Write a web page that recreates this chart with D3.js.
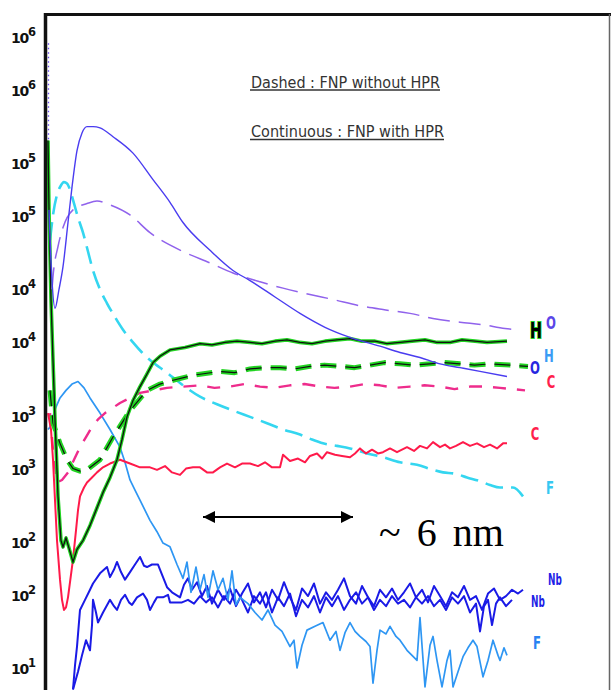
<!DOCTYPE html>
<html>
<head>
<meta charset="utf-8">
<script src="https://cdn.jsdelivr.net/npm/d3@7/dist/d3.min.js"></script>
<style>
  body{margin:0;background:#fff;}
  svg{display:block;}
</style>
</head>
<body>
<svg id="chart" width="611" height="690"></svg>
<script>
// depth in nm, value as log10(counts)
const oSolid=[[0.08,4.63],[0.2,4.07],[0.32,3.85],[0.48,4.00],[0.64,4.18],[0.84,4.53],[1.0,4.81],[1.2,5.10],[1.4,5.24],[1.6,5.29],[1.84,5.29],[2.12,5.28],[2.64,5.21],[3.44,5.08],[4.24,4.87],[4.92,4.69],[5.44,4.53],[6.52,4.31],[7.44,4.15],[8.12,4.07],[9.12,3.94],[10.12,3.81],[11.12,3.70],[12.12,3.62],[13.32,3.55],[14.12,3.50],[14.92,3.46],[15.72,3.41],[16.52,3.38],[17.32,3.35],[18.4,3.31]];
const oDashed=[[0.2,4.00],[0.24,4.10],[0.44,4.34],[0.64,4.49],[1.04,4.63],[1.6,4.68],[2.0,4.70],[2.52,4.67],[3.32,4.59],[4.12,4.45],[5.44,4.30],[6.52,4.21],[7.44,4.13],[8.52,4.06],[9.44,4.01],[10.52,3.96],[11.44,3.92],[12.52,3.87],[13.44,3.84],[14.52,3.81],[15.44,3.77],[16.52,3.74],[17.44,3.72],[18.32,3.69],[18.92,3.68]];
const hSolid=[[0.04,5.18],[0.08,4.63],[0.16,3.92],[0.24,3.44],[0.32,2.97],[0.44,2.36],[0.56,2.01],[0.64,1.96],[0.76,2.03],[0.88,1.95],[1.04,1.84],[1.2,1.94],[1.44,2.01],[1.72,2.13],[2.0,2.27],[2.24,2.39],[2.52,2.51],[2.8,2.65],[3.0,2.81],[3.2,2.99],[3.44,3.12],[3.72,3.23],[4.0,3.33],[4.24,3.42],[4.52,3.47],[4.92,3.52],[5.52,3.54],[6.12,3.57],[6.6,3.56],[7.12,3.58],[7.6,3.59],[8.12,3.58],[8.6,3.57],[9.12,3.59],[9.6,3.60],[10.12,3.58],[10.6,3.57],[11.12,3.59],[11.6,3.60],[12.12,3.61],[12.6,3.59],[13.12,3.59],[13.6,3.57],[14.12,3.58],[14.6,3.59],[15.12,3.60],[15.6,3.58],[16.12,3.58],[16.6,3.60],[17.12,3.59],[17.6,3.58],[18.4,3.59]];
const hDashed=[[0.12,3.20],[0.24,2.94],[0.52,2.78],[0.8,2.65],[1.04,2.58],[1.32,2.56],[1.6,2.57],[2.12,2.65],[2.64,2.83],[3.32,3.04],[4.0,3.20],[4.52,3.25],[5.04,3.28],[5.84,3.32],[6.92,3.35],[7.5,3.34],[8.12,3.37],[8.7,3.38],[9.32,3.38],[9.9,3.37],[10.52,3.39],[11.1,3.40],[11.72,3.39],[12.3,3.38],[12.92,3.40],[13.5,3.42],[14.12,3.41],[14.7,3.40],[15.32,3.41],[15.9,3.42],[16.52,3.41],[17.1,3.40],[17.72,3.41],[18.52,3.40],[19.24,3.39]];
const cSolid=[[0.04,3.02],[0.16,2.89],[0.24,2.65],[0.32,2.33],[0.4,2.01],[0.52,1.70],[0.6,1.54],[0.68,1.46],[0.76,1.48],[0.84,1.56],[0.96,1.74],[1.04,1.86],[1.16,2.09],[1.24,2.25],[1.32,2.36],[1.48,2.43],[1.6,2.47],[1.8,2.51],[2.0,2.55],[2.24,2.59],[2.52,2.62],[2.92,2.65],[3.32,2.62],[3.72,2.59],[4.12,2.59],[4.4,2.57],[4.72,2.60],[5.0,2.55],[5.32,2.53],[5.56,2.58],[5.84,2.59],[6.12,2.59],[6.4,2.55],[6.64,2.55],[6.92,2.59],[7.2,2.62],[7.52,2.59],[7.8,2.62],[8.12,2.62],[8.44,2.60],[8.72,2.63],[9.0,2.59],[9.32,2.59],[9.44,2.69],[9.72,2.64],[10.04,2.66],[10.32,2.63],[10.52,2.68],[10.8,2.70],[11.0,2.66],[11.2,2.71],[11.52,2.69],[11.8,2.68],[12.12,2.67],[12.32,2.70],[12.52,2.74],[12.76,2.70],[13.0,2.73],[13.24,2.70],[13.44,2.71],[13.72,2.74],[14.0,2.71],[14.4,2.75],[14.68,2.72],[14.92,2.76],[15.2,2.74],[15.44,2.79],[15.72,2.75],[15.92,2.77],[16.12,2.74],[16.36,2.76],[16.64,2.79],[16.92,2.76],[17.2,2.78],[17.48,2.75],[17.72,2.77],[18.0,2.74],[18.24,2.78],[18.4,2.78]];
const cDashed=[[0.12,3.02],[0.24,2.73],[0.4,2.47],[0.6,2.49],[0.84,2.55],[1.08,2.65],[1.32,2.75],[1.56,2.83],[1.8,2.91],[2.04,2.97],[2.32,3.02],[2.92,3.10],[3.72,3.18],[4.8,3.22],[6.12,3.24],[6.7,3.22],[7.32,3.23],[7.9,3.25],[8.52,3.23],[9.1,3.22],[9.72,3.24],[10.3,3.25],[10.92,3.23],[11.5,3.22],[12.12,3.23],[12.7,3.25],[13.32,3.24],[13.9,3.22],[14.52,3.23],[15.1,3.24],[15.72,3.23],[16.3,3.21],[16.92,3.23],[17.5,3.23],[18.12,3.22],[19.12,3.20]];
const fDashed=[[0.12,4.39],[0.24,4.59],[0.4,4.75],[0.52,4.81],[0.68,4.85],[0.8,4.84],[0.92,4.79],[1.04,4.71],[1.24,4.57],[1.44,4.45],[1.64,4.30],[1.84,4.15],[2.12,4.00],[2.4,3.89],[2.72,3.78],[3.04,3.68],[3.44,3.58],[3.8,3.50],[4.12,3.44],[4.8,3.34],[5.44,3.24],[6.12,3.15],[6.8,3.09],[7.44,3.04],[8.12,2.99],[8.8,2.94],[9.44,2.89],[10.12,2.85],[10.6,2.81],[11.04,2.78],[11.6,2.76],[12.12,2.74],[12.8,2.70],[13.44,2.67],[14.12,2.63],[14.8,2.61],[15.44,2.57],[15.84,2.55],[16.32,2.54],[16.8,2.51],[17.32,2.48],[17.72,2.45],[18.12,2.43],[18.64,2.43],[19.04,2.36]];
const fSolid=[[0.04,2.89],[0.12,2.91],[0.32,3.05],[0.52,3.14],[0.76,3.20],[1.0,3.25],[1.24,3.27],[1.48,3.22],[1.72,3.14],[2.12,3.02],[2.52,2.89],[2.92,2.75],[3.12,2.63],[3.32,2.49],[3.52,2.41],[3.72,2.33],[4.12,2.17],[4.4,2.08],[4.64,1.99],[4.92,1.96],[5.2,1.82],[5.44,1.71],[5.6,1.84],[5.76,1.60],[5.96,1.80],[6.12,1.62],[6.28,1.74],[6.44,1.56],[6.64,1.77],[6.84,1.62],[7.04,1.71],[7.24,1.54],[7.4,1.77],[7.56,1.50],[7.72,1.56],[8.04,1.51],[8.32,1.44],[8.6,1.38],[8.84,1.46],[9.12,1.34],[9.4,1.29],[9.72,1.17],[9.88,1.22],[10.0,1.00],[10.2,1.18],[10.4,1.30],[10.72,1.33],[11.04,1.36],[11.32,1.22],[11.56,1.29],[11.72,1.14],[11.92,1.28],[12.12,1.36],[12.32,1.29],[12.52,1.25],[12.76,1.21],[12.92,1.17],[13.04,0.88],[13.2,1.14],[13.32,1.30],[13.56,1.27],[13.72,1.33],[13.96,1.25],[14.12,1.22],[14.4,1.14],[14.6,1.10],[14.8,1.06],[14.92,1.40],[15.12,0.85],[15.32,1.18],[15.44,1.25],[15.6,1.06],[15.8,0.85],[16.0,1.06],[16.12,1.14],[16.24,0.85],[16.44,0.97],[16.64,1.09],[16.84,1.16],[17.04,1.22],[17.2,1.17],[17.44,0.93],[17.64,1.06],[17.84,1.22],[18.04,1.10],[18.12,1.06],[18.28,1.16],[18.4,1.10]];
const nbUpper=[[1.04,0.83],[1.12,1.02],[1.2,1.17],[1.32,1.46],[1.52,1.54],[1.72,1.62],[1.84,1.67],[2.12,1.75],[2.4,1.80],[2.52,1.72],[2.68,1.78],[2.8,1.84],[2.96,1.76],[3.12,1.70],[3.32,1.76],[3.52,1.82],[3.72,1.88],[3.88,1.81],[4.0,1.80],[4.2,1.82],[4.44,1.82],[4.64,1.72],[4.8,1.64],[5.0,1.60],[5.32,1.56],[5.48,1.66],[5.64,1.71],[5.8,1.62],[6.0,1.68],[6.2,1.57],[6.4,1.65],[6.6,1.51],[6.84,1.62],[7.08,1.54],[7.32,1.63],[7.56,1.49],[7.8,1.59],[8.04,1.67],[8.28,1.52],[8.52,1.60],[8.76,1.48],[9.0,1.62],[9.24,1.54],[9.48,1.68],[9.72,1.56],[9.96,1.46],[10.2,1.63],[10.44,1.57],[10.68,1.67],[10.92,1.51],[11.16,1.60],[11.4,1.54],[11.64,1.62],[11.88,1.71],[12.12,1.57],[12.36,1.51],[12.6,1.65],[12.84,1.56],[13.08,1.49],[13.32,1.62],[13.56,1.56],[13.8,1.63],[14.04,1.54],[14.28,1.60],[14.52,1.67],[14.76,1.56],[15.0,1.62],[15.24,1.52],[15.48,1.65],[15.72,1.57],[15.96,1.49],[16.2,1.60],[16.44,1.56],[16.68,1.65],[16.92,1.54],[17.16,1.57],[17.4,1.46],[17.64,1.59],[17.88,1.63],[18.12,1.54],[18.36,1.57],[18.6,1.62],[18.84,1.59],[19.04,1.62]];
const nbLower=[[1.04,0.83],[1.24,0.97],[1.4,1.10],[1.56,1.22],[1.72,1.14],[1.8,1.34],[1.84,1.54],[1.96,1.44],[2.04,1.36],[2.24,1.44],[2.52,1.54],[2.68,1.49],[2.8,1.46],[2.96,1.54],[3.12,1.58],[3.28,1.52],[3.4,1.50],[3.6,1.56],[3.84,1.59],[4.0,1.54],[4.12,1.46],[4.28,1.52],[4.4,1.56],[4.64,1.56],[4.84,1.58],[4.92,1.52],[5.16,1.52],[5.4,1.52],[5.64,1.54],[5.88,1.51],[6.12,1.57],[6.36,1.52],[6.6,1.56],[6.84,1.48],[7.08,1.57],[7.32,1.51],[7.56,1.62],[7.8,1.54],[8.04,1.44],[8.28,1.57],[8.52,1.51],[8.76,1.60],[9.0,1.44],[9.24,1.56],[9.48,1.49],[9.72,1.59],[9.96,1.41],[10.2,1.54],[10.44,1.48],[10.68,1.57],[10.92,1.44],[11.16,1.56],[11.4,1.49],[11.64,1.57],[11.88,1.46],[12.12,1.54],[12.36,1.60],[12.6,1.51],[12.84,1.56],[13.08,1.46],[13.32,1.54],[13.56,1.49],[13.8,1.57],[14.04,1.51],[14.28,1.54],[14.52,1.48],[14.76,1.56],[15.0,1.51],[15.24,1.57],[15.48,1.49],[15.72,1.54],[15.96,1.46],[16.2,1.56],[16.44,1.51],[16.68,1.57],[16.92,1.44],[17.16,1.51],[17.32,1.29],[17.48,1.49],[17.64,1.54],[17.8,1.34],[17.96,1.51],[18.12,1.56],[18.36,1.49],[18.6,1.54]];

// y tick positions (log10) and the exponent printed next to them
const tickLogs=[6,5.58,5,4.58,4,3.58,3,2.58,2,1.58,1];
const tickSups=["6","6","5","5","4","4","3","3","2","2","1"];

// end labels: text, colour, [nm, log10]
const endLabels=[
  ["H","#000",[19.56,3.68],true],
  ["O","#5a46e8",[20.16,3.74]],
  ["H","#3a9cf5",[20.08,3.48]],
  ["O","#2626e0",[19.52,3.385]],
  ["C","#ff1f4d",[20.16,3.27]],
  ["C","#ff1f4d",[19.52,2.86]],
  ["F","#36c8f2",[20.12,2.43]],
  ["Nb","#1e1ee6",[20.32,1.70]],
  ["Nb","#1e1ee6",[19.64,1.53]],
  ["F","#2a82f2",[19.6,1.20]]
];

const W=611,H=690;
const svg=d3.select("#chart");

const x=d3.scaleLinear().domain([0,22.4]).range([47,607]);
const y=d3.scaleLog().domain([10,1e6]).range([668,37]);

const line=d3.line()
  .x(function(d){return x(d[0])})
  .y(function(d){return y(Math.pow(10,d[1]))});
const smooth=d3.line()
  .curve(d3.curveMonotoneX)
  .x(function(d){return x(d[0])})
  .y(function(d){return y(Math.pow(10,d[1]))});

const defs=svg.append("defs");
defs.append("clipPath").attr("id","plot")
  .append("rect").attr("x",47).attr("y",16).attr("width",560).attr("height",H-16);

const series=[
  {data:nbLower,color:"#1a1ae6",width:2},
  {data:nbUpper,color:"#1a1ae6",width:2},
  {data:fSolid,color:"#2e96f3",width:1.7},
  {data:fDashed,color:"#34d6f0",width:2.6,dash:"18,8",smooth:true},
  {data:cDashed,color:"#ee2c8c",width:2.4,dash:"13,11"},
  {data:cSolid,color:"#ff1a4a",width:2},
  {data:hDashed,color:"#22d422",width:5,dash:"16,9",core:1.2},
  {data:hSolid,color:"#22d422",width:3.6,core:1.3},
  {data:oDashed,color:"#9062ec",width:1.5,dash:"22,9",smooth:true},
  {data:oSolid,color:"#4a3cf0",width:1.4,smooth:true}
];

const lines=svg.append("g").attr("class","lines").attr("clip-path","url(#plot)");

// thin dotted trace along the axis (first data channel)
lines.append("line").attr("x1",x(0.06)).attr("x2",x(0.06))
  .attr("y1",y(Math.pow(10,5.95))).attr("y2",y(Math.pow(10,4.6)))
  .attr("stroke","#6a4cf0").attr("stroke-width",1.3).attr("stroke-dasharray","1.5,3");

series.forEach(function(s){
  let gen=s.smooth?smooth:line;
  lines.append("path").datum(s.data)
    .attr("d",gen)
    .attr("fill","none")
    .attr("stroke",s.color)
    .attr("stroke-width",s.width)
    .attr("stroke-linejoin","round")
    .attr("stroke-dasharray",s.dash||null);
  if(s.core){ // thin black trace on top of the green H curves
    lines.append("path").datum(s.data)
      .attr("d",gen)
      .attr("fill","none")
      .attr("stroke","#111")
      .attr("stroke-width",s.core)
      .attr("stroke-dasharray",s.dash||null);
  }
});

// frame
const frame=svg.append("g").attr("class","frame");
frame.append("line").attr("x1",44).attr("x2",611).attr("y1",14.5).attr("y2",14.5)
  .attr("stroke","#111").attr("stroke-width",3);
frame.append("line").attr("x1",45.5).attr("x2",45.5).attr("y1",13).attr("y2",H)
  .attr("stroke","#111").attr("stroke-width",3.5);
frame.append("line").attr("x1",609.5).attr("x2",609.5).attr("y1",14).attr("y2",H)
  .attr("stroke","#666").attr("stroke-width",1.5);

// y labels
const yl=svg.append("g").attr("class","ylabels")
  .style("font-family","'DejaVu Sans', sans-serif").style("font-weight","bold");
tickLogs.forEach(function(t,i){
  let tx=yl.append("text").attr("x",11).attr("y",y(Math.pow(10,t))+6)
    .attr("font-size",14).attr("fill","#111");
  tx.append("tspan").text("10").attr("letter-spacing",-1.2);
  tx.append("tspan").text(tickSups[i]).attr("dy",-7).attr("font-size",11.5);
});

// legend notes
const notes=[["Dashed : FNP without HPR",87.5,189],["Continuous : FNP with HPR",137,193]];
const ng=svg.append("g").attr("class","notes");
notes.forEach(function(n){
  ng.append("text").attr("x",251).attr("y",n[1]).text(n[0])
    .attr("font-family","'DejaVu Sans Condensed','DejaVu Sans',sans-serif")
    .attr("font-size",15).attr("fill","#333")
    .attr("textLength",n[2]).attr("lengthAdjust","spacingAndGlyphs");
  ng.append("line").attr("x1",250).attr("x2",251+n[2]).attr("y1",n[1]+2.5).attr("y2",n[1]+2.5)
    .attr("stroke","#333").attr("stroke-width",1.4);
});

// scale arrow, 6 nm
defs.append("marker").attr("id","head").attr("viewBox","0 0 10 10")
  .attr("refX",10).attr("refY",5).attr("markerWidth",6).attr("markerHeight",6)
  .attr("markerUnits","strokeWidth").attr("orient","auto-start-reverse")
  .append("path").attr("d","M0,0L10,5L0,10z").attr("fill","#000");
const ay=517;
svg.append("line").attr("x1",x(6.24)).attr("x2",x(12.24)).attr("y1",ay).attr("y2",ay)
  .attr("stroke","#000").attr("stroke-width",2)
  .attr("marker-start","url(#head)").attr("marker-end","url(#head)");
svg.append("text").attr("x",379).attr("y",546).text("~ 6 nm")
  .attr("font-family","'Liberation Serif','Times New Roman',serif")
  .attr("font-size",40).attr("fill","#000")
  .attr("word-spacing",6);

// series end labels
const lg=svg.append("g").attr("class","endlabels");
endLabels.forEach(function(l){
  let big=l[3];
  let t=lg.append("text")
    .attr("transform","translate("+x(l[2][0])+","+y(Math.pow(10,l[2][1]))+") scale("+(l[0]=="Nb"?0.62:0.72)+",1)")
    .attr("text-anchor","middle").attr("dy","0.36em")
    .attr("font-family","'DejaVu Sans Condensed','DejaVu Sans',sans-serif")
    .attr("font-weight","bold")
    .attr("font-size",big?22:(l[0]=="Nb"?16:18))
    .attr("fill",l[1])
    .text(l[0]);
  if(big){
    t.attr("stroke","#22d422").attr("stroke-width",2).attr("paint-order","stroke");
  }
});
</script>
</body>
</html>
